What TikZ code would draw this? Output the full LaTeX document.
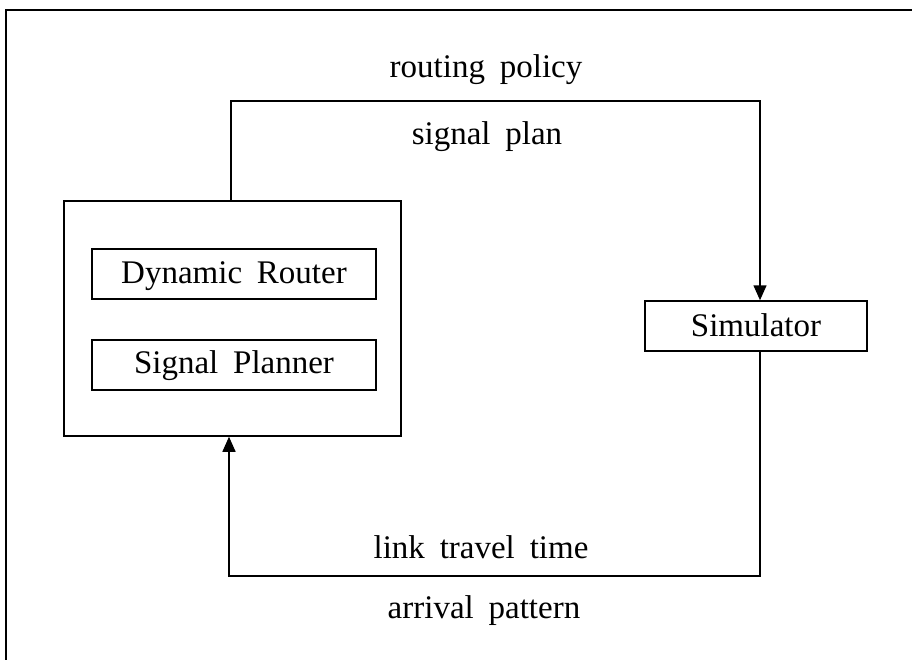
\documentclass[tikz,border=0pt]{standalone}
\usepackage{fontspec}
\setmainfont{Liberation Serif}
\usetikzlibrary{arrows.meta}
\newcommand{\labelfont}{\fontsize{33}{38}\selectfont\spaceskip=0.45em\relax}
\begin{document}
\begin{tikzpicture}[x=1pt,y=-1pt,
  line width=1.5pt,
  lbl/.style={font=\labelfont, inner sep=0pt, anchor=base},
  modbox/.style={draw, inner sep=0pt},
  flow/.style={-{Triangle[length=15pt,width=13pt]}}]
  % page and frame
  \useasboundingbox (0,0) rectangle (912,660);
  \draw[line width=1.2pt] (6,660) -- (6,10) -- (912,10);

  % controller block with its two modules
  \node[modbox, minimum width=337pt, minimum height=235pt] (ctrl) at (232.5,318.5) {};
  \node[modbox, minimum width=284pt, minimum height=50pt] (router) at (234,274) {};
  \node[modbox, minimum width=284pt, minimum height=50pt] (planner) at (234,365) {};
  \node[lbl] (routertext) at (234,283) {Dynamic Router};
  \node[lbl] (plannertext) at (234,373) {Signal Planner};

  % simulator
  \node[modbox, minimum width=222pt, minimum height=50pt] (sim) at (756,326) {};
  \node[lbl] (simtext) at (756,336) {Simulator};

  % feedback loop
  \coordinate (tl) at (231,101);
  \coordinate (tr) at (760,101);
  \coordinate (bl) at (229,576);
  \coordinate (br) at (760,576);
  \draw[flow] (ctrl.north -| tl) -- (tl) -- (tr) -- (sim.north -| tr);
  \draw[flow] (sim.south -| br) -- (br) -- (bl) -- (ctrl.south -| bl);

  % loop labels
  \node[lbl] (lp1) at (486,78) {routing policy};
  \node[lbl] (lp2) at (487,145) {signal plan};
  \node[lbl] (lp3) at (481,558) {link travel time};
  \node[lbl] (lp4) at (484,618) {arrival pattern};
\end{tikzpicture}
\end{document}
